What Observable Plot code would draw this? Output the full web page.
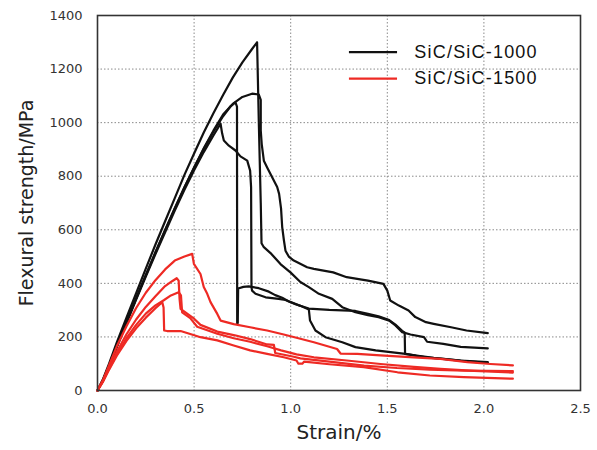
<!DOCTYPE html>
<html>
<head>
<meta charset="utf-8">
<script src="https://cdn.jsdelivr.net/npm/d3@7"></script>
<script src="https://cdn.jsdelivr.net/npm/@observablehq/plot@0.6"></script>
<style>
  html, body { margin: 0; padding: 0; background: #fff; }
  #chart svg { display: block; overflow: visible; }
</style>
</head>
<body>
<div id="chart"></div>
<script>
// ---- tick labels ----
const xTicks = [0, 0.5, 1.0, 1.5, 2.0, 2.5];
const yTicks = [0, 200, 400, 600, 800, 1000, 1200, 1400];

// ---- series names / colours ----
const seriesNames = ["SiC/SiC-1000", "SiC/SiC-1500"];
const seriesColors = ["#111111", "#ee2a24"];

// ---- SiC/SiC-1000 specimens (strain %, flexural strength MPa) ----
const blk1 = [[0,0],[0.03,45],[0.06,100],[0.1,180],[0.15,272],[0.2,363],[0.25,455],[0.3,545],[0.35,632],[0.4,718],[0.45,805],[0.5,885],[0.55,963],[0.6,1035],[0.65,1103],[0.7,1168],[0.75,1225],[0.8,1275],[0.826,1300],[0.835,1000],[0.845,700],[0.849,550],[0.861,535],[0.90,510],[0.947,472],[1.0,440],[1.05,405],[1.094,386],[1.146,361],[1.215,342],[1.267,311],[1.335,292],[1.40,281],[1.455,274],[1.51,261],[1.542,243],[1.577,218],[1.62,209],[1.69,199],[1.706,182],[1.79,174],[1.88,163],[1.95,160],[2.02,157]];
const blk2 = [[0,0],[0.03,41],[0.06,93],[0.1,166],[0.15,256],[0.2,344],[0.25,431],[0.3,516],[0.35,599],[0.4,681],[0.45,759],[0.5,833],[0.55,904],[0.6,970],[0.65,1030],[0.7,1070],[0.75,1096],[0.80,1108],[0.835,1105],[0.845,1085],[0.845,970],[0.85,920],[0.861,858],[0.88,830],[0.904,796],[0.93,760],[0.94,734],[0.95,680],[0.956,610],[0.965,560],[0.973,522],[0.99,500],[1.016,485],[1.085,460],[1.12,454],[1.22,441],[1.29,423],[1.36,415],[1.40,410],[1.48,398],[1.50,373],[1.515,336],[1.56,317],[1.61,299],[1.645,274],[1.70,255],[1.74,249],[1.83,236],[1.91,224],[2.02,214]];
const blk3 = [[0,0],[0.03,40],[0.06,92],[0.1,165],[0.15,255],[0.2,343],[0.25,430],[0.3,515],[0.35,598],[0.4,680],[0.45,758],[0.5,832],[0.55,902],[0.6,966],[0.65,1024],[0.69,1062],[0.714,1076],[0.722,1060],[0.723,250],[0.726,252],[0.728,381],[0.755,387],[0.783,389],[0.835,382],[0.887,369],[0.92,356],[0.956,346],[0.99,332],[1.025,322],[1.094,306],[1.2,301],[1.267,299],[1.335,297],[1.40,286],[1.455,277],[1.51,263],[1.542,246],[1.577,223],[1.59,216],[1.592,137],[1.65,130],[1.74,122],[1.88,112],[2.02,106]];
const blk4 = [[0,0],[0.03,39],[0.06,90],[0.1,162],[0.15,251],[0.2,339],[0.25,425],[0.3,509],[0.35,591],[0.4,672],[0.45,749],[0.5,822],[0.55,890],[0.6,952],[0.637,996],[0.645,960],[0.654,933],[0.68,914],[0.714,896],[0.74,874],[0.775,858],[0.79,821],[0.795,759],[0.797,385],[0.80,373],[0.818,361],[0.87,348],[0.938,342],[0.973,338],[1.0,330],[1.05,316],[1.094,302],[1.10,261],[1.128,224],[1.18,199],[1.267,180],[1.335,162],[1.44,150],[1.594,137],[1.70,124],[1.80,117],[1.90,110],[2.02,103]];

// ---- SiC/SiC-1500 specimens ----
const red1 = [[0,0],[0.03,42],[0.06,95],[0.1,165],[0.15,240],[0.2,308],[0.25,365],[0.3,412],[0.35,452],[0.4,485],[0.45,500],[0.49,510],[0.499,473],[0.533,435],[0.55,386],[0.568,361],[0.585,330],[0.62,286],[0.637,261],[0.705,248],[0.79,236],[0.878,224],[0.964,209],[1.05,193],[1.12,180],[1.24,155],[1.258,138],[1.344,137],[1.465,131],[1.637,124],[1.775,118],[1.914,106],[2.034,99],[2.15,94]];
const red2 = [[0,0],[0.03,38],[0.06,85],[0.1,145],[0.15,210],[0.2,265],[0.25,312],[0.3,352],[0.35,390],[0.386,408],[0.41,419],[0.42,410],[0.425,340],[0.43,305],[0.5,268],[0.533,245],[0.62,220],[0.705,207],[0.79,192],[0.878,172],[0.913,170],[0.92,140],[1.016,126],[1.05,120],[1.2,108],[1.38,93],[1.55,84],[1.72,78],[1.9,74],[2.15,72]];
const red3 = [[0,0],[0.03,36],[0.06,80],[0.1,135],[0.15,195],[0.2,245],[0.25,287],[0.3,318],[0.343,337],[0.38,355],[0.42,367],[0.432,355],[0.438,292],[0.48,270],[0.516,238],[0.62,212],[0.705,195],[0.79,182],[0.878,165],[0.95,150],[1.03,135],[1.12,124],[1.29,112],[1.465,99],[1.637,88],[1.775,81],[1.95,73],[2.15,67]];
const red4 = [[0,0],[0.03,35],[0.06,78],[0.1,130],[0.15,185],[0.2,232],[0.25,272],[0.3,307],[0.335,330],[0.342,310],[0.345,224],[0.36,222],[0.43,222],[0.48,211],[0.533,199],[0.62,187],[0.705,168],[0.79,150],[0.878,137],[0.964,124],[1.03,112],[1.04,100],[1.06,100],[1.07,108],[1.2,98],[1.378,87],[1.553,68],[1.72,56],[1.896,50],[2.15,44]];

// ---- legend placement (data units) ----
const legendX = [1.304, 1.553, 1.64];
const legendY = [1263, 1164];

const specimens = [
  {id: "b1", group: 0, pts: blk1}, {id: "b2", group: 0, pts: blk2},
  {id: "b3", group: 0, pts: blk3}, {id: "b4", group: 0, pts: blk4},
  {id: "r1", group: 1, pts: red1}, {id: "r2", group: 1, pts: red2},
  {id: "r3", group: 1, pts: red3}, {id: "r4", group: 1, pts: red4}
];
const rows = specimens.flatMap(s => s.pts.map(([x, y]) => ({id: s.id, x, y, color: seriesColors[s.group]})));
const legendRows = seriesNames.map((name, i) => ({name, color: seriesColors[i], y: legendY[i]}));

const chart = Plot.plot({
  width: 597,
  height: 450,
  marginLeft: 97,
  marginRight: 17,
  marginTop: 15,
  marginBottom: 60,
  style: {fontFamily: "'DejaVu Sans', Verdana, sans-serif", fontSize: "13px", color: "#333", background: "#fff", overflow: "visible"},
  x: {domain: [0, 2.5], ticks: xTicks, tickFormat: d => d.toFixed(1), tickSize: 0, tickPadding: 13, label: null},
  y: {domain: [0, 1400], ticks: yTicks, tickFormat: d => String(d), tickSize: 0, tickPadding: 15, label: null},
  marks: [
    Plot.gridX(xTicks.slice(1, -1), {stroke: "#8a8a8a", strokeOpacity: 1, strokeDasharray: "1.5,2"}),
    Plot.gridY(yTicks.slice(1, -1), {stroke: "#8a8a8a", strokeOpacity: 1, strokeDasharray: "1.5,2"}),
    Plot.line(rows, {x: "x", y: "y", z: "id", stroke: "color", strokeWidth: 2.2, strokeLinejoin: "round"}),
    Plot.frame({stroke: "#333", strokeWidth: 1.6}),
    Plot.ruleY(legendRows, {y: "y", x1: legendX[0], x2: legendX[1], stroke: "color", strokeWidth: 2.2}),
    Plot.text(legendRows, {x: legendX[2], y: "y", text: "name", textAnchor: "start", fill: "#111", fontSize: 18, fontFamily: "'Liberation Sans', Arial, sans-serif"}),
    Plot.text(["Strain/%"], {text: d => d, frameAnchor: "bottom", textAnchor: "middle", dy: 48, fontSize: 20, fill: "#222"}),
    Plot.text(["Flexural strength/MPa"], {text: d => d, frameAnchor: "left", textAnchor: "middle", dx: -71, rotate: -90, fontSize: 19, fill: "#222"})
  ]
});
document.getElementById("chart").appendChild(chart);
// legend letter spacing
d3.select(chart).selectAll("text").filter(function() { return /SiC\/SiC/.test(this.textContent); }).style("letter-spacing", "1.2px");
</script>
</body>
</html>
